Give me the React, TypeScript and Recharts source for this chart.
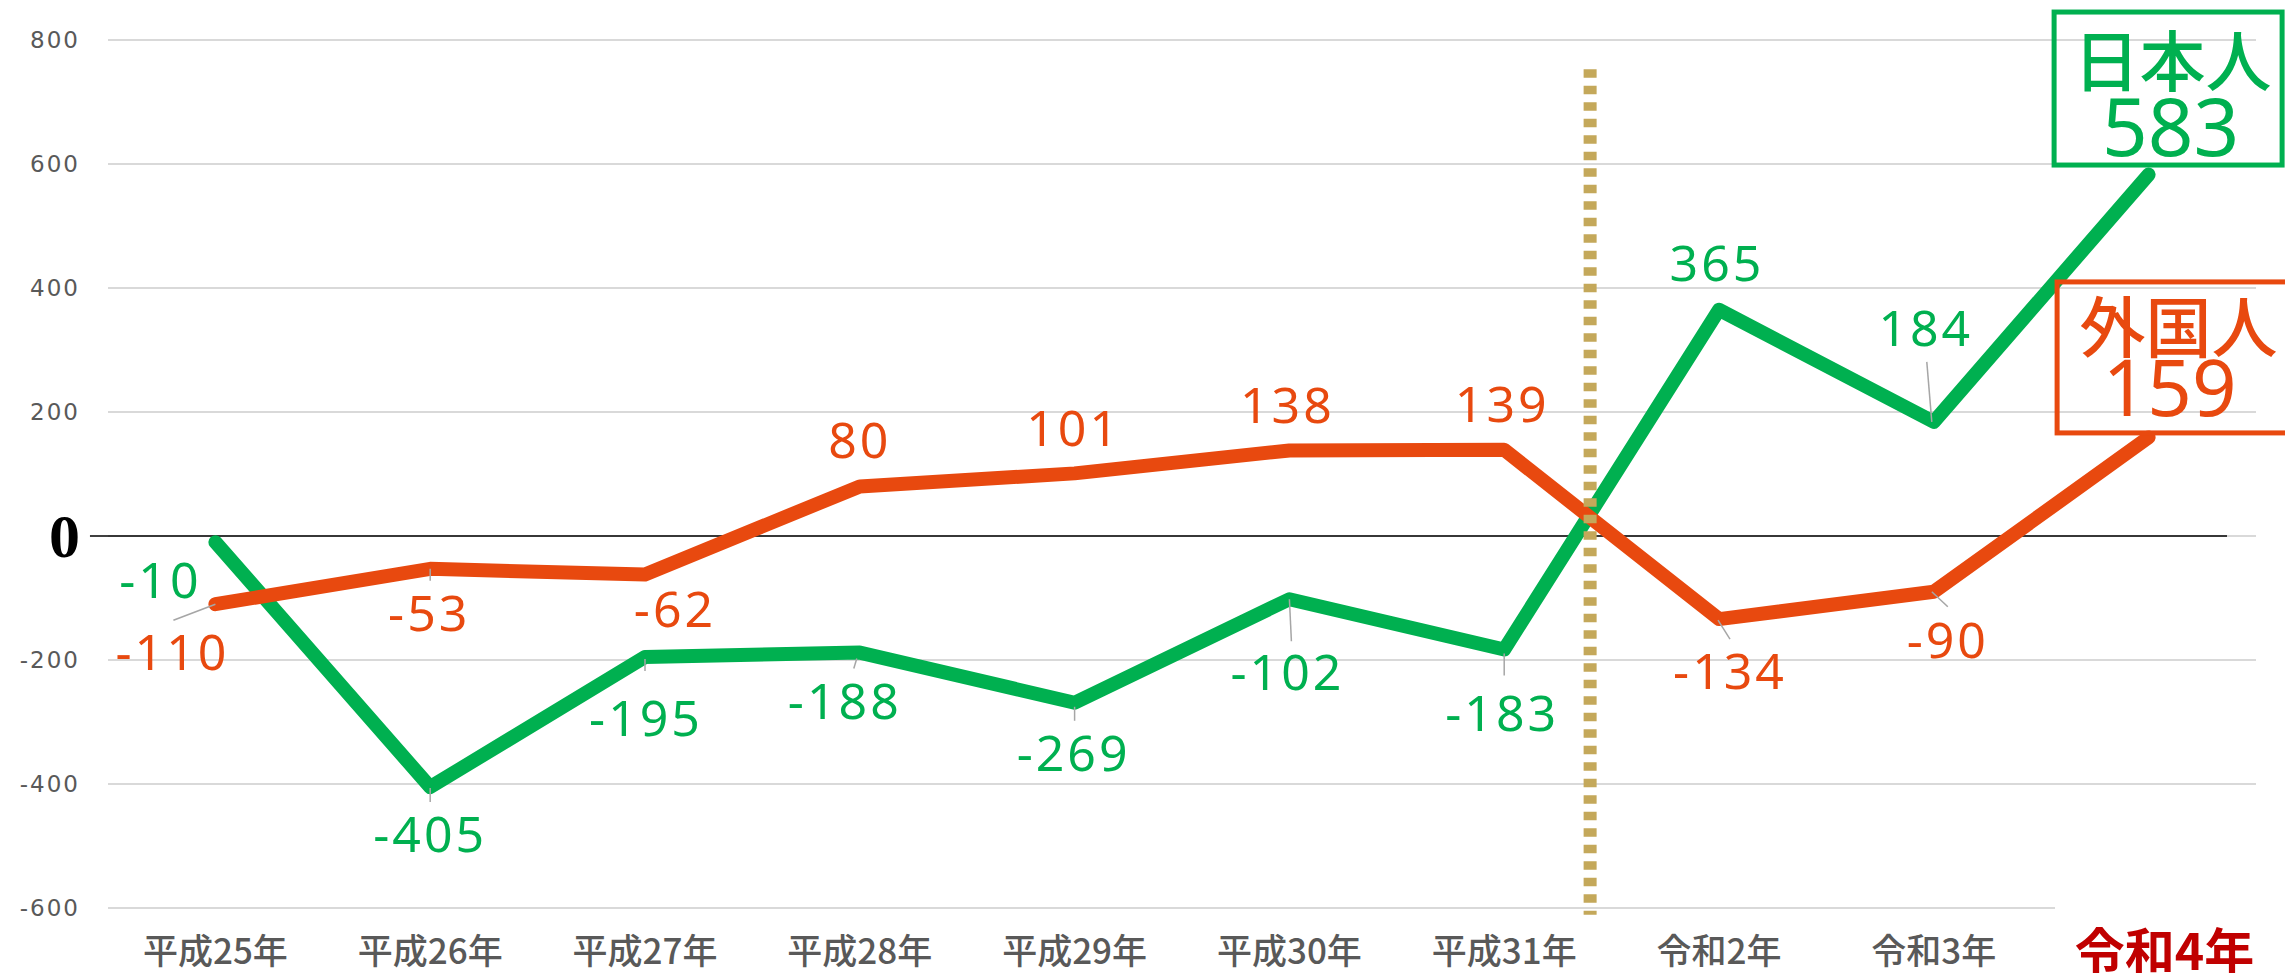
import React from 'react';
import { LineChart, Line, XAxis, YAxis, CartesianGrid, ReferenceLine, LabelList } from 'recharts';

const years = ['平成25年', '平成26年', '平成27年', '平成28年', '平成29年', '平成30年', '平成31年', '令和2年', '令和3年', '令和4年'];
const japanese = [-10, -405, -195, -188, -269, -102, -183, 365, 184, 583];
const foreign = [-110, -53, -62, 80, 101, 138, 139, -134, -90, 159];
const yTicks = [-600, -400, -200, 0, 200, 400, 600, 800];
const seriesNames = ['日本人', '外国人'];

const GREEN = '#00B050';
const ORANGE = '#E8490F';
const GRAY = '#595959';
const NUM_FONT = '"Noto Sans", sans-serif';
const JP_FONT = '"Noto Sans CJK JP", sans-serif';

const data = years.map((year, i) => ({ idx: i, year, jp: japanese[i], fg: foreign[i] }));

// where each value label sits relative to its point (label centre), plus an optional leader line
type Place = { dx: number; dy: number; leader?: number[] };
const jpPlace: Place[] = [
  { dx: -55, dy: 38 },
  { dx: 0, dy: 47, leader: [0, 1, 0, 15] },
  { dx: 1, dy: 61, leader: [0, 2, 0, 14] },
  { dx: -15, dy: 48, leader: [-3, 6, -6, 16] },
  { dx: -1, dy: 50, leader: [0, 4, 0, 18] },
  { dx: -2, dy: 73, leader: [0, 0, 2, 42] },
  { dx: -2, dy: 64, leader: [0, 4, 0, 26] },
  { dx: -2, dy: -47 },
  { dx: -8, dy: -94, leader: [-7, -60, -2, 0] },
  { dx: 0, dy: 0 },
];
const fgPlace: Place[] = [
  { dx: -43, dy: 48, leader: [0, 0, -42, 16] },
  { dx: -1, dy: 44, leader: [0, 0, 0, 12] },
  { dx: 30, dy: 35 },
  { dx: 0, dy: -46 },
  { dx: -1, dy: -45 },
  { dx: -2, dy: -45 },
  { dx: -2, dy: -46 },
  { dx: 11, dy: 52, leader: [-1, 1, 11, 20] },
  { dx: 14, dy: 48, leader: [-2, 0, 14, 15] },
  { dx: 0, dy: 0 },
];

function makeLabel(places: Place[], color: string, name: string, box: 'jp' | 'fg') {
  return (props: any) => {
    const { x, y, value, index } = props;
    if (x == null || y == null) return null;
    if (index === places.length - 1) {
      const r = box === 'jp'
        ? { x: x - 94.5, y: y - 162.5, w: 228, h: 153, tx: x + 24, ty: y - 118, nx: x + 22, ny: y - 19, ns: 80 }
        : { x: x - 91.5, y: y - 155.5, w: 240, h: 151, tx: x + 30, ty: y - 114, nx: x + 21, ny: y - 21, ns: 78 };
      return (
        <g>
          <rect x={r.x} y={r.y} width={r.w} height={r.h} fill="none" stroke={color} strokeWidth={5} />
          <text x={r.tx} y={r.ty} textAnchor="middle" dominantBaseline="central" fill={color}
            style={{ fontFamily: JP_FONT, fontSize: 66, fontWeight: 500 }}>{name}</text>
          <text x={r.nx} y={r.ny} textAnchor="middle" fill={color}
            style={{ fontFamily: NUM_FONT, fontSize: r.ns }}>{value}</text>
        </g>
      );
    }
    const p = places[index];
    return (
      <g>
        {p.leader && (
          <line x1={x + p.leader[0]} y1={y + p.leader[1]} x2={x + p.leader[2]} y2={y + p.leader[3]}
            stroke="#A6A6A6" strokeWidth={1.5} />
        )}
        <text x={x + p.dx} y={y + p.dy + 18} textAnchor="middle" fill={color}
          style={{ fontFamily: NUM_FONT, fontSize: 50, letterSpacing: 3 }}>{value}</text>
      </g>
    );
  };
}

function XTick(props: any) {
  const { x, payload } = props;
  const label = years[payload.value];
  if (payload.value === years.length - 1) {
    return (
      <g>
        <rect x={2055} y={898} width={240} height={80} fill="#fff" />
        <text x={x + 16} y={948} textAnchor="middle" dominantBaseline="central" fill="#C00000"
          style={{ fontFamily: JP_FONT, fontSize: 50, fontWeight: 700 }}>{label}</text>
      </g>
    );
  }
  return (
    <text x={x} y={948} textAnchor="middle" dominantBaseline="central" fill={GRAY}
      style={{ fontFamily: JP_FONT, fontSize: 35, fontWeight: 500 }}>{label}</text>
  );
}

function YTick(props: any) {
  const { y, payload } = props;
  if (payload.value === 0) {
    return (
      <text x={80} y={y + 21} textAnchor="end" fill="#000"
        style={{ fontFamily: '"Liberation Serif", serif', fontSize: 62, fontWeight: 700 }}>0</text>
    );
  }
  return (
    <text x={80} y={y + 8} textAnchor="end" fill={GRAY}
      style={{ fontFamily: '"DejaVu Sans", sans-serif', fontSize: 23, letterSpacing: 2 }}>{payload.value}</text>
  );
}

export default function App() {
  return (
    <div style={{ position: 'absolute', left: 0, top: 0, width: 2285, height: 973, background: '#fff' }}>
      <LineChart width={2285} height={973} data={data} margin={{ top: 40, right: 29, left: 0, bottom: 0 }}>
        <CartesianGrid vertical={false} stroke="#D9D9D9" strokeWidth={2} />
        <XAxis
          type="number"
          dataKey="idx"
          domain={[-0.5, years.length - 0.5]}
          ticks={years.map((_, i) => i)}
          interval={0}
          axisLine={false}
          tickLine={false}
          height={65}
          tick={<XTick />}
        />
        <YAxis
          domain={[-600, 800]}
          ticks={yTicks}
          interval={0}
          width={108}
          axisLine={false}
          tickLine={false}
          tick={<YTick />}
        />
        <ReferenceLine
          segment={[{ x: -0.584, y: 0 }, { x: 9.365, y: 0 }]}
          stroke="#000"
          strokeWidth={1.5}
          ifOverflow="visible"
        />
        <Line
          type="linear"
          dataKey="jp"
          stroke={GREEN}
          strokeWidth={14}
          strokeLinecap="round"
          strokeLinejoin="round"
          dot={false}
          activeDot={false}
          isAnimationActive={false}
        >
          <LabelList dataKey="jp" content={makeLabel(jpPlace, GREEN, seriesNames[0], 'jp')} />
        </Line>
        <Line
          type="linear"
          dataKey="fg"
          stroke={ORANGE}
          strokeWidth={14}
          strokeLinecap="round"
          strokeLinejoin="round"
          dot={false}
          activeDot={false}
          isAnimationActive={false}
        >
          <LabelList dataKey="fg" content={makeLabel(fgPlace, ORANGE, seriesNames[1], 'fg')} />
        </Line>
        <ReferenceLine
          segment={[{ x: 6.4, y: 753 }, { x: 6.4, y: -611 }]}
          stroke="#C4A85A"
          strokeWidth={13}
          strokeDasharray="8.5 8"
          ifOverflow="visible"
        />
      </LineChart>
    </div>
  );
}
